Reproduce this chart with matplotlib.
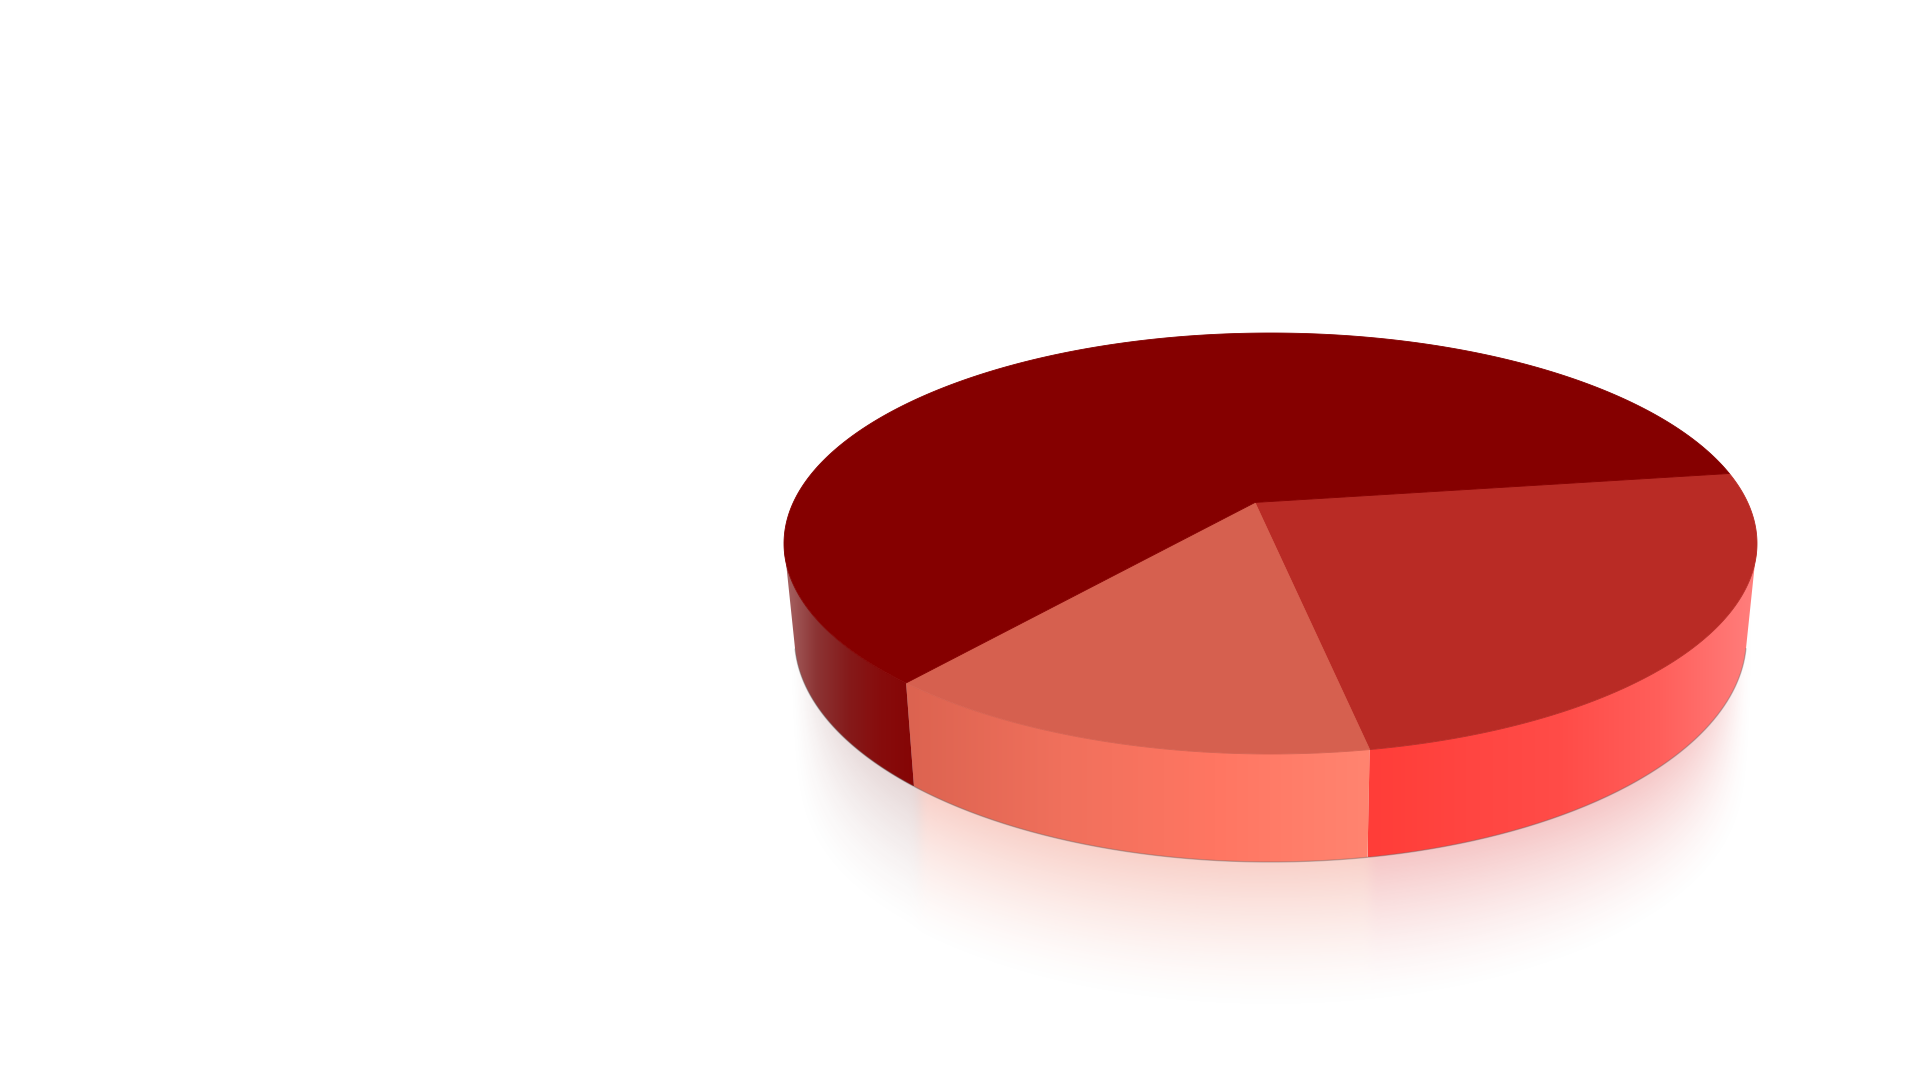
import numpy as np
from matplotlib import pyplot as plt
from matplotlib.colors import LinearSegmentedColormap
from matplotlib.patches import Polygon

# slices, clockwise on screen from the start angle
udzialy = [24.08, 14.07, 61.85]
kolory_gora = ["#b92b25", "#d6604f", "#850000"]
kolory_bok = [
    ["#ff3d38", "#ff4541", "#ff4c48", "#ff5f5b", "#ff7f7d"],
    ["#dc6350", "#f0705c", "#ff7662", "#ff8470"],
    ["#a86666", "#8c3434", "#851a1a", "#870c0c", "#850505"],
]
kolory_odbicie = [(225, 70, 70), (235, 105, 80), (120, 40, 40)]
alfa_odbicie = [0.31, 0.31, 0.19]

start_kat = -8.0

# pie projection: ellipses in pixels, p = where the pie centre lands inside the disk
cx = 1270.5
gora = (486.5, 543.5, 210.5)
dol = (476.0, 638.0, 224.0)
p = np.array([-0.0319, -0.195])


def rzut(kat, elipsa):
    # perspective map of the unit disk, keeps the circle and moves the centre to p
    rx, cy, ry = elipsa
    t = np.radians(kat)
    x, y = np.cos(t), np.sin(t)
    d = np.hypot(p[0], p[1])
    ux, uy = p / d
    s = np.sqrt(1 - d ** 2)
    k = x * ux + y * uy
    mian = 1 + x * p[0] + y * p[1]
    qx = (p[0] + k * ux + s * (x - k * ux)) / mian
    qy = (p[1] + k * uy + s * (y - k * uy)) / mian
    return cx + rx * qx, cy + ry * qy


def srodek():
    return cx + gora[0] * p[0], gora[1] + gora[2] * p[1]


katy = start_kat + np.concatenate([[0], np.cumsum(udzialy)]) * 3.6

fig = plt.figure(figsize=(19.2, 10.75), dpi=100, facecolor="white")
ax = fig.add_axes([0, 0, 1, 1])
ax.set_xlim(0, 1920)
ax.set_ylim(1075, 0)
ax.axis("off")

# front part of the rim, between the two silhouette tangents
siatka = np.linspace(0, 360, 3601)
gx, gy = rzut(siatka, gora)
kat_prawy = siatka[np.argmax(gx)]
kat_lewy = siatka[np.argmin(gx)]
dx, dy = rzut(siatka, dol)
pod_l = dy > gy[np.argmin(gx)] + 5
pod_p = dy > gy[np.argmax(gx)] + 5
nachyl_l = np.where(pod_l, (dx - gx.min()) / np.maximum(dy - gy[np.argmin(gx)], 1), np.inf)
nachyl_p = np.where(pod_p, (gx.max() - dx) / np.maximum(dy - gy[np.argmax(gx)], 1), np.inf)
kat_lewy_dol = siatka[np.argmin(nachyl_l)]
kat_prawy_dol = siatka[np.argmin(nachyl_p)]

# reflection under the pie
xs = np.arange(740, 1800)
ys = np.arange(600, 1075)
u = np.clip(np.abs(xs - cx) / dol[0], 0, 1)
yb = dol[1] + dol[2] * np.sqrt(1 - u ** 2)
granice = [rzut(katy[1], dol)[0] + 3, rzut(katy[2], dol)[0] + 5]
nr = np.where(xs > granice[0], 0, np.where(xs > granice[1], 1, 2))
kol = np.array(kolory_odbicie, dtype=float)[nr] / 255
alfa0 = np.array(alfa_odbicie)[nr] * (np.abs(xs - cx) < dol[0])
t = np.clip((ys[:, None] - yb[None, :]) / 150.0, 0, 1)
alfa = alfa0[None, :] * (1 - t) ** 1.5 * (1 - u[None, :] ** 14)
okno = np.exp(-0.5 * (np.arange(-18, 19) / 5.0) ** 2)
okno = okno / okno.sum()
alfa = np.apply_along_axis(lambda w: np.convolve(w, okno, mode="same"), 1, alfa)
okno2 = np.exp(-0.5 * (np.arange(-15, 16) / 4.0) ** 2)
okno2 = okno2 / okno2.sum()
alfa = np.apply_along_axis(lambda w: np.convolve(w, okno2, mode="same"), 0, alfa)
kol_g = np.stack([np.convolve(kol[:, i], okno, mode="same") for i in range(3)], axis=1)
kol_g[:30] = kol[:30]
kol_g[-30:] = kol[-30:]
obraz = np.zeros((len(ys), len(xs), 4))
obraz[:, :, :3] = kol_g[None, :, :]
obraz[:, :, 3] = alfa
ax.imshow(obraz, extent=(xs[0], xs[-1], ys[-1], ys[0]), aspect="auto", zorder=1)

# side walls with a horizontal gradient
for i in range(3):
    k0, k1 = katy[i], katy[i + 1]
    if i == 0:
        a_g = np.linspace(max(k0, kat_prawy - 360 if kat_prawy > 180 else kat_prawy), k1, 200)
        a_d = np.linspace(max(k0, kat_prawy_dol - 360 if kat_prawy_dol > 180 else kat_prawy_dol), k1, 200)
    elif i == 2:
        a_g = np.linspace(k0, kat_lewy, 200)
        a_d = np.linspace(k0, kat_lewy_dol, 200)
    else:
        a_g = np.linspace(k0, k1, 200)
        a_d = a_g
    tx, ty = rzut(a_g, gora)
    bx, by = rzut(a_d, dol)
    pts = np.vstack([np.column_stack([tx, ty]), np.column_stack([bx, by])[::-1]])
    x0, x1 = pts[:, 0].min(), pts[:, 0].max()
    y0, y1 = pts[:, 1].min(), pts[:, 1].max()
    mapa = LinearSegmentedColormap.from_list("bok", kolory_bok[i])
    grad = np.linspace(0, 1, 256)[None, :]
    obr = ax.imshow(grad, cmap=mapa, extent=(x0, x1, y1, y0), aspect="auto", zorder=2)
    wielokat = Polygon(pts, closed=True, transform=ax.transData, facecolor="none", edgecolor="none")
    ax.add_patch(wielokat)
    obr.set_clip_path(wielokat)

# thin grey edge along the bottom of the wall
a_kr = np.linspace(kat_prawy_dol, kat_lewy_dol, 400)
kx, ky = rzut(a_kr, dol)
ax.plot(kx, ky, color="#666666", lw=0.9, alpha=0.4, zorder=2.5)

# top face
sx, sy = srodek()
for i in range(3):
    a = np.linspace(katy[i], katy[i + 1], 300)
    tx, ty = rzut(a, gora)
    ax.fill(np.r_[sx, tx], np.r_[sy, ty], color=kolory_gora[i], lw=0.6, zorder=3)

ax.set_xlim(0, 1920)
ax.set_ylim(1075, 0)
fig.savefig("out.png", dpi=100, facecolor="white")
